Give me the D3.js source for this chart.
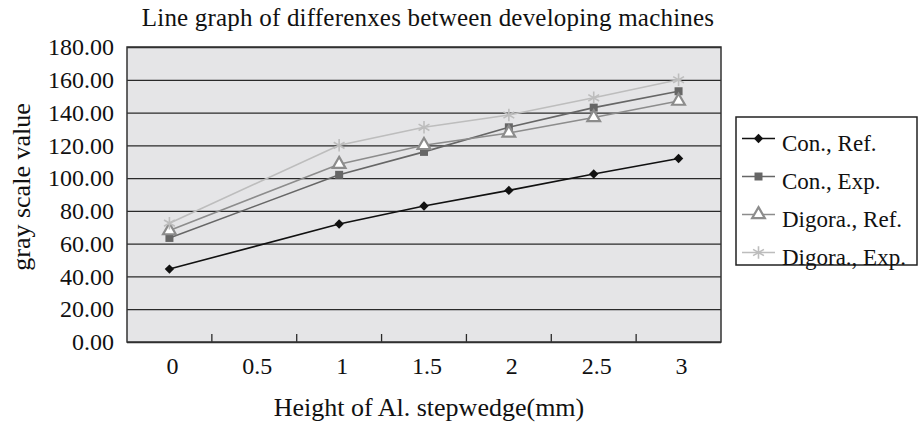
<!DOCTYPE html>
<html>
<head>
<meta charset="utf-8">
<script src="https://cdn.jsdelivr.net/npm/d3@7"></script>
<style>
  body { margin: 0; background: #fff; }
  svg text { font-family: "Liberation Serif", "DejaVu Serif", serif; fill: #111; }
</style>
</head>
<body>
<script>
const W = 919, H = 424;
const plot = { left: 127, right: 721, top: 47, bottom: 342 };

const categories = ["0", "0.5", "1", "1.5", "2", "2.5", "3"];
const conRef    = [44.5, null, 72, 83, 92.5, 102.5, 112];
const conExp    = [63.5, null, 102, 116, 131, 143, 153];
const digoraRef = [68, null, 108.5, 120, 127.5, 137, 147];
const digoraExp = [72.5, null, 120, 131, 138.5, 149, 160];
const seriesNames = ["Con., Ref.", "Con., Exp.", "Digora., Ref.", "Digora., Exp."];
const yTicks = [0, 20, 40, 60, 80, 100, 120, 140, 160, 180];

const series = [
  { name: seriesNames[0], values: conRef,    color: "#111111", mark: "diamond" },
  { name: seriesNames[1], values: conExp,    color: "#666666", mark: "square" },
  { name: seriesNames[2], values: digoraRef, color: "#8c8c8c", mark: "triangle" },
  { name: seriesNames[3], values: digoraExp, color: "#bdbdbd", mark: "star" }
];

const svg = d3.select("body").append("svg")
  .attr("width", W)
  .attr("height", H);

const x = d3.scaleBand().domain(categories).range([plot.left, plot.right]).padding(0);
const y = d3.scaleLinear().domain([0, 180]).range([plot.bottom, plot.top]);

// plot background
svg.append("rect")
  .attr("x", plot.left).attr("y", plot.top)
  .attr("width", plot.right - plot.left).attr("height", plot.bottom - plot.top)
  .attr("fill", "#e5e5e7");

// y axis with grid
const yAxis = svg.append("g")
  .attr("transform", `translate(${plot.left},0)`)
  .call(d3.axisLeft(y).tickValues(yTicks).tickFormat(d3.format(".2f"))
    .tickSize(-(plot.right - plot.left)).tickPadding(13));
yAxis.select(".domain").remove();
yAxis.selectAll(".tick line").attr("stroke", "#2a2a2a").attr("stroke-width", 1.3);
yAxis.selectAll(".tick text").attr("font-size", 24).attr("fill", "#111");

// x ticks between categories, pointing inside
svg.append("g").selectAll("line")
  .data(categories.slice(1))
  .join("line")
    .attr("x1", d => x(d)).attr("x2", d => x(d))
    .attr("y1", plot.bottom).attr("y2", plot.bottom - 8)
    .attr("stroke", "#2a2a2a").attr("stroke-width", 1.3);

svg.append("g").selectAll("text")
  .data(categories)
  .join("text")
    .attr("x", d => x(d) + x.bandwidth() / 2 + 3)
    .attr("y", 374)
    .attr("text-anchor", "middle")
    .attr("font-size", 24)
    .text(d => d);

// plot frame
svg.append("rect")
  .attr("x", plot.left).attr("y", plot.top)
  .attr("width", plot.right - plot.left).attr("height", plot.bottom - plot.top)
  .attr("fill", "none").attr("stroke", "#333").attr("stroke-width", 1.5);

function symbolFor(mark) {
  if (mark === "diamond") return d3.symbol(d3.symbolSquare, 44)();
  if (mark === "square") return d3.symbol(d3.symbolSquare, 64)();
  if (mark === "triangle") return d3.symbol(d3.symbolTriangle, 70)();
  return d3.symbol(d3.symbolAsterisk, 110)();
}

function styleMarker(sel, s) {
  sel.attr("d", symbolFor(s.mark));
  if (s.mark === "triangle") {
    sel.attr("fill", "#fff").attr("stroke", s.color).attr("stroke-width", 2.2);
  } else if (s.mark === "star") {
    sel.attr("fill", "none").attr("stroke", s.color).attr("stroke-width", 1.6);
  } else {
    sel.attr("fill", s.color).attr("stroke", "none");
  }
}

const cx = (d) => x(d.cat) + x.bandwidth() / 2;
const line = d3.line().x(cx).y(d => y(d.v));

series.forEach(s => {
  const pts = categories.map((c, i) => ({ cat: c, v: s.values[i] })).filter(d => d.v != null);
  svg.append("path")
    .datum(pts)
    .attr("d", line)
    .attr("fill", "none")
    .attr("stroke", s.color)
    .attr("stroke-width", 1.6);
  svg.append("g").selectAll("path")
    .data(pts)
    .join("path")
      .attr("transform", d => `translate(${cx(d)},${y(d.v)})` + (s.mark === "diamond" ? " rotate(45)" : ""))
      .call(styleMarker, s);
});

// titles
svg.append("text")
  .attr("x", 428).attr("y", 26)
  .attr("text-anchor", "middle")
  .attr("font-size", 25)
  .attr("letter-spacing", 0.2)
  .text("Line graph of differenxes between developing machines");

svg.append("text")
  .attr("transform", "translate(30,187) rotate(-90)")
  .attr("text-anchor", "middle")
  .attr("font-size", 26)
  .text("gray scale value");

svg.append("text")
  .attr("x", 429).attr("y", 416)
  .attr("text-anchor", "middle")
  .attr("font-size", 26)
  .text("Height of Al. stepwedge(mm)");

// legend
const lg = svg.append("g");
lg.append("rect")
  .attr("x", 736).attr("y", 117)
  .attr("width", 181).attr("height", 148)
  .attr("fill", "#fff").attr("stroke", "#222").attr("stroke-width", 1.5);

const rowY = d3.scalePoint().domain(seriesNames).range([138.5, 252.5]);
series.forEach(s => {
  const ry = rowY(s.name);
  lg.append("line")
    .attr("x1", 742).attr("x2", 775)
    .attr("y1", ry).attr("y2", ry)
    .attr("stroke", s.color).attr("stroke-width", 1.6);
  lg.append("path")
    .attr("transform", `translate(758.5,${ry})` + (s.mark === "diamond" ? " rotate(45)" : ""))
    .call(styleMarker, s);
  lg.append("text")
    .attr("x", 782).attr("y", ry + 12)
    .attr("font-size", 23)
    .text(s.name);
});
</script>
</body>
</html>
